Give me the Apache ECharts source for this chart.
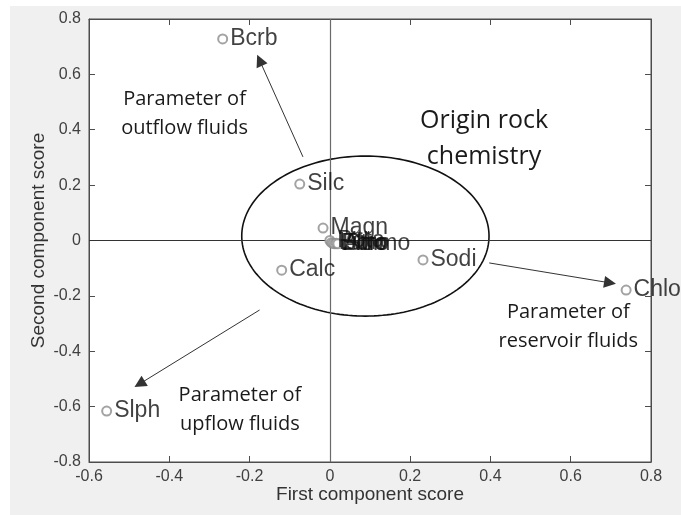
<!DOCTYPE html>
<html>
<head>
<meta charset="utf-8">
<script src="https://cdn.jsdelivr.net/npm/echarts@6/dist/echarts.min.js"></script>
<style>
  html, body { margin: 0; padding: 0; background: #ffffff; }
  #bg { position: absolute; left: 10px; top: 6px; width: 671px; height: 509px; background: #f0f0f0; }
  #chart { position: absolute; left: 0; top: 0; width: 681px; height: 515px; }
</style>
</head>
<body>
<div id="bg"></div>
<div id="chart"></div>
<script>
// ---- data ----
const pointNames = ['Bcrb', 'Silc', 'Magn', 'Calc', 'Sodi', 'Chlo', 'Slph', 'Pota', 'Lith', 'Boro', 'Fluo', 'Ammo', 'Stro'];
const firstScore = [-0.267, -0.075, -0.017, -0.120, 0.232, 0.738, -0.556, 0.000, 0.004, 0.008, 0.012, 0.016, 0.020];
const secondScore = [0.728, 0.204, 0.045, -0.107, -0.070, -0.179, -0.616, 0.000, -0.008, -0.010, -0.012, -0.010, -0.012];

const xTicks = { min: -0.6, max: 0.8, step: 0.2 };
const yTicks = { min: -0.8, max: 0.8, step: 0.2 };

// ellipse: [centerX, centerY, radiusX, radiusY]
const ellipse = [0.0885, 0.016, 0.308, 0.289];

// arrows: [fromX, fromY, toX, toY]
const arrowOutflow = [-0.067, 0.302, -0.175, 0.651];
const arrowUpflow = [-0.175, -0.251, -0.474, -0.518];
const arrowReservoir = [0.397, -0.081, 0.698, -0.153];

// annotations: text and anchor (center)
const noteTexts = ['Parameter of\noutflow fluids', 'Origin rock\nchemistry', 'Parameter of\nreservoir fluids', 'Parameter of\nupflow fluids'];
const noteX = [-0.362, 0.384, 0.594, -0.224];
const noteY = [0.459, 0.367, -0.311, -0.610];
const noteSize = [20, 25, 20, 20];
const noteLineHeight = [29, 36, 29, 29];

// ---- chart ----
const chart = echarts.init(document.getElementById('chart'), null, { renderer: 'canvas' });

const scatterData = pointNames.map((n, i) => ({ name: n, value: [firstScore[i], secondScore[i]] }));
const arrows = [arrowOutflow, arrowUpflow, arrowReservoir].map(a => ({ coords: [[a[0], a[1]], [a[2], a[3]]] }));
const notes = noteTexts.map((t, i) => [noteX[i], noteY[i], i]);

const tickLabelStyle = { fontFamily: 'Liberation Sans', fontSize: 16, color: '#404040' };
const axisNameStyle = { fontFamily: 'Liberation Sans', fontSize: 19, color: '#333' };

const option = {
  backgroundColor: 'transparent',
  animation: false,
  grid: { left: 89, right: 30, top: 19, bottom: 53, show: true, backgroundColor: '#ffffff', borderColor: '#4d4d4d', borderWidth: 1 },
  xAxis: [
    {
      type: 'value', position: 'bottom', min: xTicks.min, max: xTicks.max, interval: xTicks.step,
      name: 'First component score', nameLocation: 'middle', nameGap: 23, nameMoveOverlap: false, nameTextStyle: axisNameStyle,
      axisLine: { onZero: false, lineStyle: { color: '#4d4d4d' } },
      axisTick: { inside: true, length: 6, lineStyle: { color: '#4d4d4d' } },
      axisLabel: Object.assign({ margin: 7 }, tickLabelStyle),
      splitLine: { show: false }
    },
    {
      type: 'value', position: 'top', min: xTicks.min, max: xTicks.max, interval: xTicks.step,
      axisLine: { onZero: false, lineStyle: { color: '#4d4d4d' } },
      axisTick: { inside: true, length: 6, lineStyle: { color: '#4d4d4d' } },
      axisLabel: { show: false }, splitLine: { show: false }
    }
  ],
  yAxis: [
    {
      type: 'value', position: 'left', min: yTicks.min, max: yTicks.max, interval: yTicks.step,
      name: 'Second component score', nameLocation: 'middle', nameGap: 41, nameMoveOverlap: false, nameTextStyle: axisNameStyle,
      axisLine: { onZero: false, lineStyle: { color: '#4d4d4d' } },
      axisTick: { inside: true, length: 6, lineStyle: { color: '#4d4d4d' } },
      axisLabel: Object.assign({ margin: 8 }, tickLabelStyle),
      splitLine: { show: false }
    },
    {
      type: 'value', position: 'right', min: yTicks.min, max: yTicks.max, interval: yTicks.step,
      axisLine: { onZero: false, lineStyle: { color: '#4d4d4d' } },
      axisTick: { inside: true, length: 6, lineStyle: { color: '#4d4d4d' } },
      axisLabel: { show: false }, splitLine: { show: false }
    }
  ],
  series: [
    {
      type: 'custom', name: 'ellipse', xAxisIndex: 0, yAxisIndex: 0, silent: true, z: 3,
      data: [ellipse],
      renderItem: function (params, api) {
        const cx = api.value(0), cy = api.value(1), rx = api.value(2), ry = api.value(3);
        const pts = [];
        for (let k = 0; k <= 180; k++) {
          const t = k / 180 * Math.PI * 2;
          pts.push(api.coord([cx + rx * Math.cos(t), cy + ry * Math.sin(t)]));
        }
        return { type: 'polyline', shape: { points: pts }, style: { stroke: '#111', lineWidth: 1.6, fill: null } };
      }
    },
    {
      type: 'lines', coordinateSystem: 'cartesian2d', xAxisIndex: 0, yAxisIndex: 0, silent: true, z: 4,
      symbol: ['none', 'triangle'], symbolSize: [9, 12],
      lineStyle: { color: '#333', width: 1, opacity: 1 },
      data: arrows
    },
    {
      type: 'custom', name: 'notes', xAxisIndex: 0, yAxisIndex: 0, silent: true, z: 5,
      data: notes,
      renderItem: function (params, api) {
        const idx = api.value(2);
        const p = api.coord([api.value(0), api.value(1)]);
        return {
          type: 'text',
          style: {
            text: noteTexts[idx], x: p[0], y: p[1], align: 'center', verticalAlign: 'middle',
            fontFamily: 'Open Sans', fontSize: noteSize[idx], lineHeight: noteLineHeight[idx], fill: '#1a1a1a'
          }
        };
      }
    },
    {
      type: 'scatter', name: 'scores', xAxisIndex: 0, yAxisIndex: 0, z: 6,
      symbol: 'emptyCircle', symbolSize: 9,
      itemStyle: { color: '#8c8c8c', borderColor: '#8c8c8c', borderWidth: 1.5 },
      label: {
        show: true, position: 'right', distance: 2, formatter: '{b}',
        fontFamily: 'Liberation Sans', fontSize: 23, color: '#111'
      },
      labelLayout: { hideOverlap: false },
      data: scatterData,
      markLine: {
        silent: true, symbol: 'none', label: { show: false },
        data: [
          { xAxis: 0, lineStyle: { color: '#6a6a6a', width: 1.2, type: 'solid' } },
          { yAxis: 0, lineStyle: { color: '#333', width: 1.2, type: 'solid' } }
        ]
      }
    }
  ]
};
chart.setOption(option);
</script>
</body>
</html>
